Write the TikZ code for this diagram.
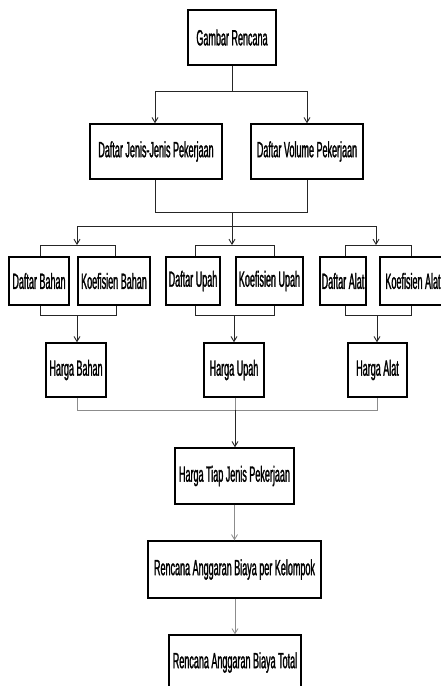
\documentclass[tikz,border=0pt]{standalone}
\usepackage{fontspec}
\setmainfont{Liberation Sans}[FakeStretch=0.41,FakeBold=1.2]
\usetikzlibrary{arrows.meta}
\begin{document}
\begin{tikzpicture}[x=1pt,y=-1pt,
  box/.style={draw=black,line width=1.4pt,inner sep=0pt,fill=white,
    font=\fontsize{22}{23}\selectfont},
  conn/.style={draw=black!85,line width=0.9pt},
  faint/.style={draw=black!45,line width=0.8pt},
  arr/.style={-{Straight Barb[length=5pt,width=6pt]}}]
\useasboundingbox (0,0) rectangle (441,686);
\fill[white] (0,0) rectangle (441,686);
% nodes
\node[box,minimum width=88pt,minimum height=55pt] (gr) at (232,37.5) {Gambar Rencana};
\node[box,minimum width=132pt,minimum height=55pt] (djp) at (156,151.5) {Daftar Jenis-Jenis Pekerjaan};
\node[box,minimum width=112pt,minimum height=55pt] (dvp) at (307,151.5) {Daftar Volume Pekerjaan};
\node[box,minimum width=60pt,minimum height=48pt] (db) at (39,281) {Daftar Bahan};
\node[box,minimum width=72pt,minimum height=48pt] (kb) at (114,281) {Koefisien Bahan};
\node[box,minimum width=54pt,minimum height=48pt] (du) at (193,281) {Daftar Upah};
\node[box,minimum width=67pt,minimum height=48pt] (ku) at (269.5,281) {Koefisien Upah};
\node[box,minimum width=46pt,minimum height=48pt] (da) at (343,281) {Daftar Alat};
\node[box,minimum width=66pt,minimum height=48pt] (ka) at (413,281) {Koefisien Alat};
\node[box,minimum width=60pt,minimum height=54pt] (hb) at (76,370) {Harga Bahan};
\node[box,minimum width=60pt,minimum height=54pt] (hu) at (234,370) {Harga Upah};
\node[box,minimum width=59pt,minimum height=54pt] (ha) at (377.5,370) {Harga Alat};
\node[box,minimum width=119pt,minimum height=56pt] (ht) at (234.5,476) {Harga Tiap Jenis Pekerjaan};
\node[box,minimum width=173pt,minimum height=57pt] (rk) at (234.5,569.5) {Rencana Anggaran Biaya per Kelompok};
\node[box,minimum width=132pt,minimum height=55pt] (rt) at (235,662.5) {Rencana Anggaran Biaya Total};
% junction coordinates
\coordinate (j1) at (232,91);
\coordinate (j1l) at (155,91);
\coordinate (j1r) at (307,91);
\coordinate (j2l) at (155,212);
\coordinate (j2r) at (307,212);
\coordinate (j2) at (232,212);
\coordinate (j3) at (232,226);
\coordinate (j3l) at (77,226);
\coordinate (j3r) at (376,226);
\coordinate (bt) at (77,245);
\coordinate (ut) at (232,245);
\coordinate (at) at (376,245);
\coordinate (bb) at (77,315);
\coordinate (ub) at (234,315);
\coordinate (ab) at (377,315);
\coordinate (j4l) at (77,410);
\coordinate (j4r) at (377,410);
\coordinate (j4) at (235,410);
% connectors top
\draw[conn] (gr.south) -- (j1);
\draw[conn] (j1l) -- (j1r);
\draw[conn,arr] (j1l) -- (djp.north -| j1l);
\draw[conn,arr] (j1r) -- (dvp.north -| j1r);
\draw[conn] (djp.south -| j2l) -- (j2l) -- (j2r) -- (dvp.south -| j2r);
\draw[conn] (j2) -- (j3);
\draw[conn] (j3l) -- (j3r);
\draw[conn,arr] (j3l) -- (bt);
\draw[conn,arr] (j3) -- (ut);
\draw[conn,arr] (j3r) -- (at);
% group tops
\draw[conn] (db.north -| 40,0) -- (40,245) -- (115,245) -- (kb.north -| 115,0);
\draw[conn] (du.north -| 195,0) -- (195,245) -- (274,245) -- (ku.north -| 274,0);
\draw[conn] (da.north -| 345,0) -- (345,245) -- (411,245) -- (ka.north -| 411,0);
% group bottoms
\draw[conn] (db.south -| 40,0) -- (40,315) -- (116,315) -- (kb.south -| 116,0);
\draw[conn] (du.south -| 195,0) -- (195,315) -- (274,315) -- (ku.south -| 274,0);
\draw[conn] (da.south -| 345,0) -- (345,315) -- (411,315) -- (ka.south -| 411,0);
\draw[conn,arr] (bb) -- (hb.north -| bb);
\draw[conn,arr] (ub) -- (hu.north -| ub);
\draw[conn,arr] (ab) -- (ha.north -| ab);
% bottom
\draw[faint] (hb.south -| j4l) -- (j4l) -- (j4r) -- (ha.south -| j4r);
\draw[faint] (hu.south -| j4) -- (j4);
\draw[conn,arr] (j4) -- (ht.north -| j4);
\draw[faint,arr] (ht.south -| rk.north) -- (rk.north);
\draw[faint,arr] (rk.south -| rt.north) -- (rt.north);
\end{tikzpicture}
\end{document}
